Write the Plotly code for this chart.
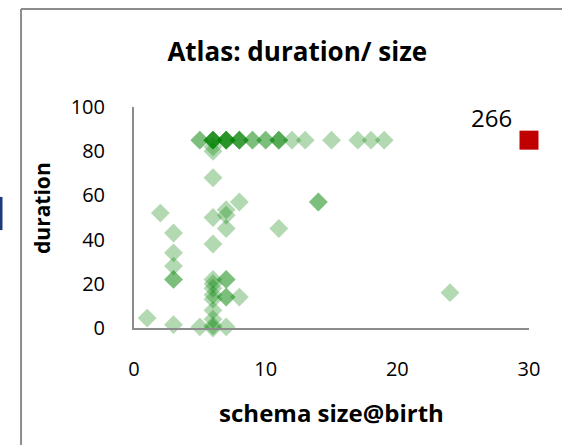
import plotly.graph_objects as go

# schema size@birth vs duration (Atlas)
size_x = [5, 5,
          6, 6, 6, 6, 6,
          7, 7, 7, 7, 7,
          8, 8, 8, 8,
          9, 9, 10, 10, 11, 11, 11, 12, 13, 15, 17, 18, 19,
          6, 6, 6,
          2, 3, 3, 3, 3, 3, 1, 3,
          5, 6, 6, 7,
          6, 6, 6, 6, 6, 6, 6,
          7, 7, 7, 7, 8,
          6, 6, 7, 7, 7, 8,
          11, 14, 14, 24]
duration_y = [85, 85,
              85, 85, 85, 85, 85,
              85, 85, 85, 85, 85,
              85, 85, 85, 85,
              85, 85, 85, 85, 85, 85, 85, 85, 85, 85, 85, 85, 85,
              82, 80, 68,
              52, 43, 34, 28, 22, 22, 4.5, 1.5,
              0.5, 1, 0, 0.5,
              4, 8, 13, 15, 18, 20, 22,
              22, 22, 14, 14, 14,
              38, 50, 45, 51, 53.5, 57,
              45, 57, 57, 16]

outlier_x = [30]
outlier_y = [85]
outlier_label = "266"

title = "Atlas: duration/ size"
x_title = "schema size@birth"
y_title = "duration"
x_ticks = [0, 10, 20, 30]
y_ticks = [0, 20, 40, 60, 80, 100]

FONT = "Open Sans, sans-serif"

fig = go.Figure()
fig.add_trace(go.Scatter(
    x=size_x, y=duration_y, mode="markers",
    marker=dict(symbol="diamond", size=14.5, color="rgb(0,128,0)", opacity=0.3,
                line=dict(width=0)),
    cliponaxis=False, showlegend=False, hoverinfo="x+y"))
fig.add_trace(go.Scatter(
    x=outlier_x, y=outlier_y, mode="markers",
    marker=dict(symbol="square", size=19, color="#c00000", line=dict(width=0)),
    cliponaxis=False, showlegend=False))

fig.add_annotation(x=outlier_x[0], y=outlier_y[0], text=outlier_label, showarrow=False,
                   xref="x", yref="y", xshift=-38, yshift=23,
                   font=dict(family=FONT, size=24, color="#000"))

# y-axis title (placed as rotated text, as in the reference it sits slightly above center)
fig.add_annotation(x=-0.233, y=0.543, xref="paper", yref="paper", text="<b>" + y_title + "</b>",
                   textangle=-90, showarrow=False, xanchor="center", yanchor="middle",
                   font=dict(family=FONT, size=21, color="#000"))

fig.update_layout(
    width=562, height=445,
    margin=dict(l=134, r=33, t=107, b=117),
    paper_bgcolor="white", plot_bgcolor="white",
    title=dict(text="<b>" + title + "</b>", x=0.529, xanchor="center", y=0.884, yanchor="middle",
               font=dict(family=FONT, size=26, color="#000")),
    font=dict(family=FONT, color="#000"),
    xaxis=dict(range=[0, 30], tickvals=x_ticks, showgrid=False, zeroline=False,
               showline=True, linecolor="#8c8c8c", linewidth=2, ticks="",
               tickfont=dict(size=20), ticklabelstandoff=22,
               title=dict(text="<b>" + x_title + "</b>", font=dict(size=24), standoff=24)),
    yaxis=dict(range=[0, 100], tickvals=y_ticks, showgrid=False, zeroline=False,
               showline=True, linecolor="#8c8c8c", linewidth=2, ticks="",
               tickfont=dict(size=20), ticklabelstandoff=23),
    shapes=[
        dict(type="line", xref="paper", yref="paper", x0=-0.286, x1=1.2, y0=1.443, y1=1.443,
             line=dict(color="#8c8c8c", width=2)),
        dict(type="line", xref="paper", yref="paper", x0=-0.286, x1=-0.286, y0=1.443, y1=-0.6,
             line=dict(color="#8c8c8c", width=2)),
        dict(type="line", xref="paper", yref="paper", x0=-0.3367, x1=-0.3367, y0=0.593, y1=0.443,
             line=dict(color="#1f3a7a", width=3)),
    ],
)

fig.write_html("out.html")
